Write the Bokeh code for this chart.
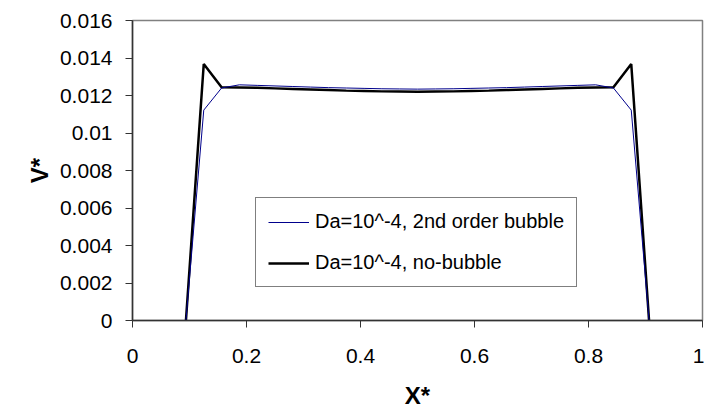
from bokeh.plotting import figure
from bokeh.models import FixedTicker, Range1d, Legend, LegendItem
from bokeh.embed import file_html
from bokeh.resources import INLINE

# Data (x in units of 1/32 spacing)
x_vals = [3/32, 4/32, 5/32, 6/32, 7/32, 8/32, 9/32, 10/32, 11/32, 12/32, 13/32,
          14/32, 15/32, 16/32, 17/32, 18/32, 19/32, 20/32, 21/32, 22/32, 23/32,
          24/32, 25/32, 26/32, 27/32, 28/32, 29/32]
v_bubble = [0.0, 0.01122, 0.01240, 0.01257, 0.01254, 0.01251, 0.01248, 0.01245,
            0.01242, 0.01240, 0.01238, 0.01236, 0.01235, 0.01234, 0.01235, 0.01236,
            0.01238, 0.01240, 0.01242, 0.01245, 0.01248, 0.01251, 0.01254, 0.01257,
            0.01240, 0.01122, 0.0]
v_nobubble = [0.0, 0.01368, 0.01244, 0.01243, 0.01241, 0.01238, 0.01235, 0.01232,
              0.01229, 0.01226, 0.01224, 0.01222, 0.01221, 0.01220, 0.01221, 0.01222,
              0.01224, 0.01226, 0.01229, 0.01232, 0.01235, 0.01238, 0.01241, 0.01243,
              0.01244, 0.01368, 0.0]

series_names = ["Da=10^-4, 2nd order bubble", "Da=10^-4, no-bubble"]
x_ticks = [0, 0.2, 0.4, 0.6, 0.8, 1.0]
x_tick_labels = ["0", "0.2", "0.4", "0.6", "0.8", "1"]
y_ticks = [0, 0.002, 0.004, 0.006, 0.008, 0.010, 0.012, 0.014, 0.016]
y_tick_labels = ["0", "0.002", "0.004", "0.006", "0.008", "0.01", "0.012", "0.014", "0.016"]

FONT = "Liberation Sans"

p = figure(width=704, height=412, output_backend="svg", toolbar_location=None,
           x_range=Range1d(0, 1), y_range=Range1d(0, 0.016),
           min_border_left=132, min_border_right=2, min_border_top=20,
           min_border_bottom=92)
p.xgrid.visible = False
p.ygrid.visible = False
p.outline_line_color = "#808080"
p.outline_line_width = 1.5
p.background_fill_color = "white"
p.border_fill_color = "white"

for ax, ticks, labels in ((p.xaxis[0], x_ticks, x_tick_labels), (p.yaxis[0], y_ticks, y_tick_labels)):
    ax.ticker = FixedTicker(ticks=ticks)
    ax.major_label_overrides = {t: l for t, l in zip(ticks, labels)}
    ax.minor_tick_line_color = None
    ax.major_tick_in = 0
    ax.major_tick_out = 7
    ax.axis_line_color = "#333333"
    ax.axis_line_width = 1.5
    ax.major_tick_line_color = "#333333"
    ax.major_label_text_font = FONT
    ax.major_label_text_font_size = "21px"
    ax.major_label_text_color = "black"
    ax.axis_label_text_font = FONT
    ax.axis_label_text_font_size = "24px"
    ax.axis_label_text_font_style = "bold"
    ax.axis_label_text_color = "black"

p.xaxis.axis_label = "X*"
p.yaxis.axis_label = "V*"
p.xaxis.major_label_standoff = 21
p.xaxis.axis_label_standoff = 16
p.yaxis.major_label_standoff = 13
p.yaxis.axis_label_standoff = 4
p.yaxis.major_label_orientation = "horizontal"

r_nb = p.line(x_vals, v_nobubble, line_color="black", line_width=2.5)
r_b = p.line(x_vals, v_bubble, line_color="#00008c", line_width=1)

legend = Legend(items=[LegendItem(label=series_names[0], renderers=[r_b]),
                       LegendItem(label=series_names[1], renderers=[r_nb])],
                location=(123, 33))
legend.border_line_color = "black"
legend.border_line_width = 1
legend.background_fill_alpha = 1
legend.label_text_font = FONT
legend.label_text_font_size = "20px"
legend.label_text_color = "black"
legend.glyph_width = 41
legend.glyph_height = 20
legend.label_height = 20
legend.spacing = 18
legend.padding = 12
legend.margin = 0
legend.label_standoff = 6
p.add_layout(legend)

open("out.html", "w").write(file_html(p, INLINE))
